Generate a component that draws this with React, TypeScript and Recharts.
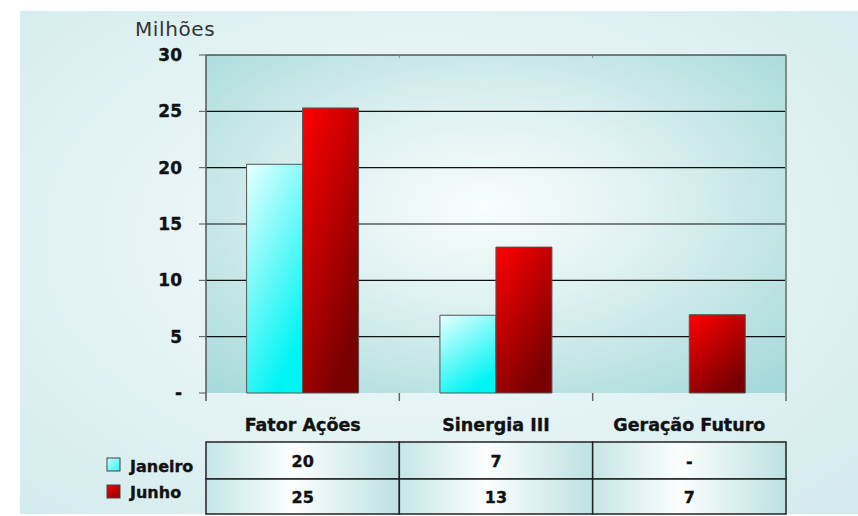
import React from 'react';
import { BarChart, Bar, XAxis, YAxis, CartesianGrid } from 'recharts';

// ---- data ----
const categories = ['Fator Ações', 'Sinergia III', 'Geração Futuro'];
const janeiro: (number | null)[] = [20.3, 6.9, null];
const junho: (number | null)[] = [25.3, 12.95, 6.95];
const janeiroLabels = ['20', '7', '-'];
const junhoLabels = ['25', '13', '7'];
const yTicks = [0, 5, 10, 15, 20, 25, 30];
const seriesNames = ['Janeiro', 'Junho'];
const unitLabel = 'Milhões';

const data = categories.map((c, i) => ({ name: c, janeiro: janeiro[i], junho: junho[i] }));

// ---- layout ----
const W = 858;
const H = 516;
const PLOT_LEFT = 206;
const PLOT_TOP = 55;
const PLOT_RIGHT = 786;
const PLOT_BOTTOM = 393;
const PLOT_W = PLOT_RIGHT - PLOT_LEFT;
const PLOT_H = PLOT_BOTTOM - PLOT_TOP;
const BAND = PLOT_W / categories.length;
const FONT = "'DejaVu Sans', Verdana, sans-serif";
const BOLD_STROKE = { stroke: '#111', strokeWidth: 0.35 };

const CategoryTick = (props: any) => {
  const { x, y, payload, index } = props;
  const half = BAND / 2;
  const left = x - half;
  const right = x + half;
  const last = categories.length - 1;
  return (
    <g fontFamily={FONT}>
      {index < last && <line x1={right} y1={y} x2={right} y2={y + 8} stroke="#666" strokeWidth={1.5} />}
      {index < last && (
        <line x1={right} y1={y - PLOT_H} x2={right} y2={y - PLOT_H + 3} stroke="#888" strokeWidth={1} />
      )}
      {index === 0 && <line x1={left} y1={y} x2={left} y2={y + 8} stroke="#555" strokeWidth={1.5} />}
      {index === last && (
        <line x1={right} y1={y - PLOT_H} x2={right} y2={y + 8} stroke="#7f8c8c" strokeWidth={2} />
      )}
      <text x={x} y={y + 32} textAnchor="middle" dominantBaseline="central" fontSize={17.5} fontWeight="bold" fill="#111" {...BOLD_STROKE}>
        {payload.value}
      </text>
      <rect x={left} y={y + 49} width={BAND} height={37} fill="url(#cellGrad)" stroke="#222" strokeWidth={1.5} />
      <rect x={left} y={y + 86} width={BAND} height={35} fill="url(#cellGrad)" stroke="#222" strokeWidth={1.5} />
      <text x={x} y={y + 68} textAnchor="middle" dominantBaseline="central" fontSize={16} fontWeight="bold" fill="#111" {...BOLD_STROKE}>
        {janeiroLabels[index]}
      </text>
      <text x={x} y={y + 104} textAnchor="middle" dominantBaseline="central" fontSize={16} fontWeight="bold" fill="#111" {...BOLD_STROKE}>
        {junhoLabels[index]}
      </text>
      {index === 0 && (
        <g>
          <rect x={left - 99} y={y + 65} width={13} height={13} fill="url(#legJan)" stroke="#444" strokeWidth={1} />
          <text x={left - 76} y={y + 73} dominantBaseline="central" fontSize={16} fontWeight="bold" fill="#111" {...BOLD_STROKE}>
            {seriesNames[0]}
          </text>
          <rect x={left - 99} y={y + 92} width={13} height={13} fill="url(#legJun)" stroke="#444" strokeWidth={1} />
          <text x={left - 76} y={y + 99} dominantBaseline="central" fontSize={16} fontWeight="bold" fill="#111" {...BOLD_STROKE}>
            {seriesNames[1]}
          </text>
        </g>
      )}
    </g>
  );
};

const UnitLabel = (props: any) => {
  const vb = props.viewBox || { x: 0, y: PLOT_TOP };
  return (
    <text x={vb.x + 135} y={vb.y - 19} fontSize={20} letterSpacing={0.6} fill="#333" fontFamily={FONT}>
      {unitLabel}
    </text>
  );
};

export default function App() {
  return (
    <div style={{ position: 'absolute', left: 0, top: 0, width: W, height: H, overflow: 'hidden' }}>
      <div
        style={{
          position: 'absolute',
          left: 20,
          top: 11,
          width: W - 20,
          height: 503,
          background: 'radial-gradient(ellipse at 48% 45%, #f6fcfc 0%, #e6f4f5 45%, #d2eaec 100%)',
        }}
      />
      <div style={{ position: 'absolute', left: 0, top: 0 }}>
        <BarChart
          width={W}
          height={H}
          data={data}
          margin={{ top: PLOT_TOP, right: W - PLOT_RIGHT, bottom: 0, left: 0 }}
          barCategoryGap="21%"
          barGap={0}
        >
          <defs>
            <radialGradient id="plotGrad" cx="0.48" cy="0.45" r="0.72">
              <stop offset="0%" stopColor="#f8fdfd" />
              <stop offset="40%" stopColor="#dff1f1" />
              <stop offset="100%" stopColor="#a6d9da" />
            </radialGradient>
            <linearGradient id="janGrad" x1="0" y1="0" x2="0.5" y2="1">
              <stop offset="0%" stopColor="#e8ffff" />
              <stop offset="100%" stopColor="#00f4f4" />
            </linearGradient>
            <linearGradient id="junGrad" x1="0" y1="0" x2="0.6" y2="1">
              <stop offset="0%" stopColor="#ff0000" />
              <stop offset="100%" stopColor="#780000" />
            </linearGradient>
            <linearGradient id="legJan" x1="0" y1="0" x2="1" y2="1">
              <stop offset="0%" stopColor="#c8ffff" />
              <stop offset="100%" stopColor="#30f0f0" />
            </linearGradient>
            <linearGradient id="legJun" x1="0" y1="0" x2="1" y2="1">
              <stop offset="0%" stopColor="#ff0000" />
              <stop offset="100%" stopColor="#800000" />
            </linearGradient>
            <linearGradient id="cellGrad" x1="0" y1="0" x2="1" y2="0">
              <stop offset="0%" stopColor="#c6e6e6" />
              <stop offset="45%" stopColor="#fcfefe" />
              <stop offset="100%" stopColor="#bde1e1" />
            </linearGradient>
          </defs>
          <CartesianGrid
            vertical={false}
            horizontalValues={[5, 10, 15, 20, 25, 30]}
            stroke="#111"
            strokeWidth={1.2}
            fill="url(#plotGrad)"
            fillOpacity={1}
          />
          <XAxis
            dataKey="name"
            height={H - PLOT_BOTTOM}
            axisLine={false}
            tickLine={false}
            tickSize={0}
            tickMargin={0}
            interval={0}
            tick={<CategoryTick />}
          />
          <YAxis
            width={PLOT_LEFT}
            domain={[0, 30]}
            ticks={yTicks}
            interval={0}
            axisLine={{ stroke: '#555', strokeWidth: 1.5 }}
            tickLine={{ stroke: '#555' }}
            tickSize={7}
            tickMargin={17}
            tick={{ fontSize: 17, fontWeight: 'bold', fill: '#111', fontFamily: FONT, stroke: '#111', strokeWidth: 0.35 }}
            tickFormatter={(v: number) => (v === 0 ? '-' : String(v))}
            label={<UnitLabel />}
          />
          <Bar dataKey="janeiro" name={seriesNames[0]} fill="url(#janGrad)" stroke="#555" strokeWidth={1} isAnimationActive={false} />
          <Bar dataKey="junho" name={seriesNames[1]} fill="url(#junGrad)" stroke="#555" strokeWidth={1} isAnimationActive={false} />
        </BarChart>
      </div>
    </div>
  );
}
